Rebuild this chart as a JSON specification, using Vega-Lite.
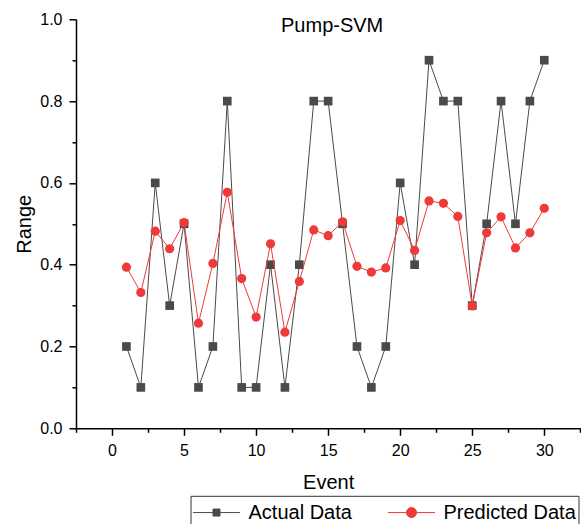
{
  "$schema": "https://vega.github.io/schema/vega-lite/v6.json",
  "width": 504.3,
  "height": 409,
  "autosize": "none",
  "padding": {"left": 76, "top": 19.3, "right": 0.7, "bottom": 95.7},
  "background": "white",
  "title": {"text": "Pump-SVM", "fontSize": 20, "font": "Liberation Sans", "fontWeight": "normal", "color": "black", "frame": "group", "anchor": "middle", "baseline": "alphabetic", "offset": -41, "dx": 4},
  "config": {
    "view": {"stroke": null},
    "axis": {"labelFont": "Liberation Sans", "titleFont": "Liberation Sans", "labelFontSize": 16, "titleFontSize": 20, "titleFontWeight": "normal", "labelColor": "black", "titleColor": "black", "domainColor": "black", "tickColor": "black", "domainWidth": 1.5, "tickWidth": 1.5, "grid": false}
  },
  "data": {"values": [
    {"event": 1, "series": "Actual Data", "value": 0.2},
    {"event": 2, "series": "Actual Data", "value": 0.1},
    {"event": 3, "series": "Actual Data", "value": 0.6},
    {"event": 4, "series": "Actual Data", "value": 0.3},
    {"event": 5, "series": "Actual Data", "value": 0.5},
    {"event": 6, "series": "Actual Data", "value": 0.1},
    {"event": 7, "series": "Actual Data", "value": 0.2},
    {"event": 8, "series": "Actual Data", "value": 0.8},
    {"event": 9, "series": "Actual Data", "value": 0.1},
    {"event": 10, "series": "Actual Data", "value": 0.1},
    {"event": 11, "series": "Actual Data", "value": 0.4},
    {"event": 12, "series": "Actual Data", "value": 0.1},
    {"event": 13, "series": "Actual Data", "value": 0.4},
    {"event": 14, "series": "Actual Data", "value": 0.8},
    {"event": 15, "series": "Actual Data", "value": 0.8},
    {"event": 16, "series": "Actual Data", "value": 0.5},
    {"event": 17, "series": "Actual Data", "value": 0.2},
    {"event": 18, "series": "Actual Data", "value": 0.1},
    {"event": 19, "series": "Actual Data", "value": 0.2},
    {"event": 20, "series": "Actual Data", "value": 0.6},
    {"event": 21, "series": "Actual Data", "value": 0.4},
    {"event": 22, "series": "Actual Data", "value": 0.9},
    {"event": 23, "series": "Actual Data", "value": 0.8},
    {"event": 24, "series": "Actual Data", "value": 0.8},
    {"event": 25, "series": "Actual Data", "value": 0.3},
    {"event": 26, "series": "Actual Data", "value": 0.5},
    {"event": 27, "series": "Actual Data", "value": 0.8},
    {"event": 28, "series": "Actual Data", "value": 0.5},
    {"event": 29, "series": "Actual Data", "value": 0.8},
    {"event": 30, "series": "Actual Data", "value": 0.9},
    {"event": 1, "series": "Predicted Data", "value": 0.394},
    {"event": 2, "series": "Predicted Data", "value": 0.332},
    {"event": 3, "series": "Predicted Data", "value": 0.482},
    {"event": 4, "series": "Predicted Data", "value": 0.439},
    {"event": 5, "series": "Predicted Data", "value": 0.503},
    {"event": 6, "series": "Predicted Data", "value": 0.257},
    {"event": 7, "series": "Predicted Data", "value": 0.403},
    {"event": 8, "series": "Predicted Data", "value": 0.577},
    {"event": 9, "series": "Predicted Data", "value": 0.366},
    {"event": 10, "series": "Predicted Data", "value": 0.272},
    {"event": 11, "series": "Predicted Data", "value": 0.451},
    {"event": 12, "series": "Predicted Data", "value": 0.235},
    {"event": 13, "series": "Predicted Data", "value": 0.359},
    {"event": 14, "series": "Predicted Data", "value": 0.485},
    {"event": 15, "series": "Predicted Data", "value": 0.471},
    {"event": 16, "series": "Predicted Data", "value": 0.505},
    {"event": 17, "series": "Predicted Data", "value": 0.396},
    {"event": 18, "series": "Predicted Data", "value": 0.382},
    {"event": 19, "series": "Predicted Data", "value": 0.392},
    {"event": 20, "series": "Predicted Data", "value": 0.508},
    {"event": 21, "series": "Predicted Data", "value": 0.435},
    {"event": 22, "series": "Predicted Data", "value": 0.556},
    {"event": 23, "series": "Predicted Data", "value": 0.55},
    {"event": 24, "series": "Predicted Data", "value": 0.518},
    {"event": 25, "series": "Predicted Data", "value": 0.299},
    {"event": 26, "series": "Predicted Data", "value": 0.478},
    {"event": 27, "series": "Predicted Data", "value": 0.517},
    {"event": 28, "series": "Predicted Data", "value": 0.441},
    {"event": 29, "series": "Predicted Data", "value": 0.478},
    {"event": 30, "series": "Predicted Data", "value": 0.538}
  ]},
  "encoding": {
    "x": {"field": "event", "type": "quantitative",
      "scale": {"domain": [-2.5, 32.5], "nice": false, "zero": false},
      "axis": {"title": "Event", "values": [-2.5, 0, 2.5, 5, 7.5, 10, 12.5, 15, 17.5, 20, 22.5, 25, 27.5, 30, 32.5],
        "labelExpr": "datum.value % 5 == 0 ? datum.label : ''",
        "tickSize": {"condition": {"test": "datum.value % 5 == 0", "value": 7}, "value": 4},
        "labelPadding": 7, "titlePadding": 14, "labelFlush": false, "labelOverlap": false}},
    "y": {"field": "value", "type": "quantitative",
      "scale": {"domain": [0, 1], "nice": false},
      "axis": {"title": "Range", "values": [0, 0.1, 0.2, 0.3, 0.4, 0.5, 0.6, 0.7, 0.8, 0.9, 1.0],
        "format": ".1f",
        "labelExpr": "round(datum.value * 10) % 2 == 0 ? datum.label : ''",
        "tickSize": {"condition": {"test": "round(datum.value * 10) % 2 == 0", "value": 7}, "value": 4},
        "labelPadding": 7, "titlePadding": 5, "labelFlush": false, "labelOverlap": false}}
  },
  "layer": [
    {"transform": [{"filter": "datum.series == 'Actual Data'"}],
     "mark": {"type": "line", "strokeWidth": 1},
     "encoding": {"color": {"field": "series", "type": "nominal",
       "scale": {"domain": ["Actual Data", "Predicted Data"], "range": ["#4a4a4a", "#ef3a3a"]},
       "legend": {"title": null, "orient": "none", "legendX": 114.5, "legendY": 476.5, "direction": "horizontal",
         "padding": 2, "strokeColor": "#333333", "fillColor": "white", "symbolSize": 784, "symbolStrokeWidth": 1,
         "labelFont": "Liberation Sans", "labelFontSize": 20, "labelColor": "black", "labelOffset": 27, "columnPadding": 33, "labelLimit": 400,
         "encode": {"symbols": {"update": {
           "shape": {"signal": "datum.value == 'Actual Data' ? 'M-1,0H2.357M0.429,-0.25H0.929V0.25H0.429Z' : 'M-1,0H2.357M0.322,0A0.357,0.357 0 1,1 1.036,0A0.357,0.357 0 1,1 0.322,0Z'"},
           "fill": {"scale": "color", "field": "value"},
           "stroke": {"scale": "color", "field": "value"},
           "strokeWidth": {"value": 1},
           "opacity": {"value": 1},
           "fillOpacity": {"value": 1}}}}}}}},
    {"transform": [{"filter": "datum.series == 'Actual Data'"}],
     "mark": {"type": "point", "shape": "square", "filled": true, "size": 75, "opacity": 1, "color": "#4a4a4a"}},
    {"transform": [{"filter": "datum.series == 'Predicted Data'"}],
     "mark": {"type": "line", "strokeWidth": 1},
     "encoding": {"color": {"field": "series", "type": "nominal"}}},
    {"transform": [{"filter": "datum.series == 'Predicted Data'"}],
     "mark": {"type": "point", "shape": "circle", "filled": true, "size": 85, "opacity": 1, "color": "#ef3a3a"}}
  ]
}
